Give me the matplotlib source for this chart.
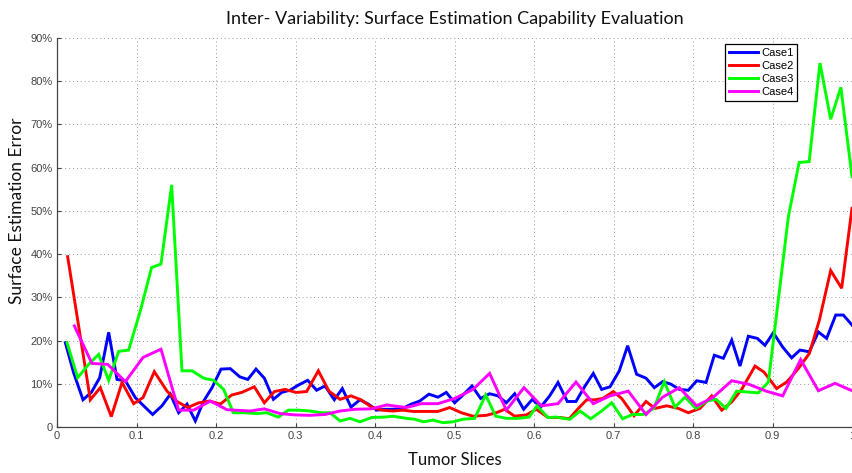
import matplotlib
matplotlib.use("Agg")
import matplotlib.pyplot as plt

# ---------------- data ----------------
case1_x = [0.0105, 0.021, 0.0327, 0.0432, 0.0537, 0.065, 0.0755, 0.086, 0.0985, 0.109,
           0.1203, 0.132, 0.1426, 0.153, 0.1635, 0.174, 0.1845, 0.195, 0.2063, 0.218,
           0.230, 0.240, 0.2503, 0.2608, 0.2722, 0.2826, 0.293, 0.3036, 0.3153, 0.3266,
           0.3371, 0.3488, 0.3589, 0.3698, 0.3811, 0.3916, 0.4021, 0.4126, 0.4226, 0.435,
           0.4457, 0.4562, 0.4679, 0.4792, 0.4897, 0.5002, 0.5107, 0.522, 0.5329, 0.5442,
           0.5547, 0.5652, 0.5757, 0.5870, 0.5979, 0.6084, 0.6197, 0.6302, 0.6419, 0.6528,
           0.6642, 0.6746, 0.6851, 0.6956, 0.7073, 0.7178, 0.7291, 0.7409, 0.7514, 0.7618,
           0.7723, 0.7828, 0.7941, 0.8046, 0.8164, 0.8268, 0.8382, 0.8487, 0.8591, 0.8696,
           0.8809, 0.8905, 0.9010, 0.9128, 0.9241, 0.9346, 0.9463, 0.9577, 0.9681, 0.9795,
           0.9891, 1.0]
case1_y = [19.5, 12.5, 6.3, 8.0, 11.4, 21.9, 11.0, 10.7, 6.8, 4.9,
           2.9, 4.9, 7.6, 3.3, 5.3, 1.4, 6.0, 9.1, 13.4, 13.5,
           11.6, 11.0, 13.4, 11.3, 6.4, 8.0, 8.5, 9.7, 10.8, 8.5,
           9.5, 6.3, 8.9, 4.6, 6.3, 5.3, 3.9, 4.1, 4.1, 4.3,
           5.3, 6.0, 7.6, 6.9, 8.0, 5.6, 7.4, 9.5, 6.6, 7.7,
           7.2, 5.6, 7.7, 4.1, 6.4, 4.6, 7.2, 10.3, 5.9, 5.9,
           9.5, 12.4, 8.7, 9.3, 13.0, 18.8, 12.2, 11.3, 9.1, 10.5,
           9.9, 8.7, 8.5, 10.7, 10.3, 16.6, 15.9, 20.1, 14.1, 21.0,
           20.5, 18.9, 21.8, 18.5, 16.0, 17.8, 17.4, 22.0, 20.5, 25.9,
           25.9, 23.6]

case2_x = [0.0134, 0.0419, 0.0545, 0.0683, 0.0818, 0.0964, 0.1082, 0.1224, 0.1384, 0.151,
           0.1644, 0.1782, 0.192, 0.2055, 0.2197, 0.2323, 0.2482, 0.2608, 0.2734, 0.2868,
           0.3006, 0.3140, 0.3287, 0.3421, 0.356, 0.3698, 0.3824, 0.3958, 0.4084, 0.4226,
           0.435, 0.448, 0.4792, 0.4939, 0.5086, 0.5233, 0.54, 0.5526, 0.5631, 0.5757,
           0.5904, 0.6030, 0.6176, 0.6327, 0.6444, 0.6558, 0.6663, 0.6768, 0.6864, 0.6998,
           0.7103, 0.7258, 0.7409, 0.7522, 0.7669, 0.7816, 0.7941, 0.8088, 0.8235, 0.8361,
           0.8487, 0.8612, 0.8780, 0.8893, 0.9052, 0.9178, 0.9325, 0.9463, 0.9589, 0.9732,
           0.9870, 1.0]
case2_y = [39.4, 6.3, 9.1, 2.4, 10.3, 5.4, 6.8, 12.8, 8.3, 5.9,
           4.5, 5.6, 6.0, 5.3, 7.4, 8.0, 9.3, 5.6, 8.2, 8.7,
           8.0, 8.2, 13.0, 8.3, 6.4, 7.2, 6.3, 4.6, 3.9, 3.7,
           3.9, 3.6, 3.6, 4.5, 3.3, 2.5, 2.7, 3.3, 4.1, 2.5,
           2.8, 4.1, 2.2, 2.2, 1.9, 4.3, 6.3, 6.3, 6.6, 8.2,
           6.6, 2.6, 5.9, 4.3, 4.9, 4.3, 3.3, 4.3, 7.2, 3.9,
           5.8, 8.7, 14.1, 12.7, 8.9, 10.4, 13.5, 17.0, 24.7, 36.2,
           32.1, 50.6]

case3_x = [0.0126, 0.026, 0.0398, 0.0524, 0.065, 0.0776, 0.0901, 0.105, 0.119, 0.1308,
           0.1442, 0.1572, 0.1698, 0.1845, 0.197, 0.2096, 0.2218, 0.2365, 0.2512, 0.2638,
           0.2784, 0.291, 0.3036, 0.3182, 0.3329, 0.3434, 0.356, 0.3686, 0.3811, 0.3958,
           0.4126, 0.4226, 0.4394, 0.45, 0.4612, 0.4729, 0.4855, 0.4981, 0.5107, 0.5254,
           0.5392, 0.5518, 0.5652, 0.5799, 0.5938, 0.6038, 0.6176, 0.6281, 0.6365, 0.6453,
           0.6579, 0.6713, 0.6851, 0.6977, 0.7115, 0.7241, 0.7375, 0.7507, 0.7639, 0.7773,
           0.7899, 0.8038, 0.8172, 0.829, 0.8415, 0.8549, 0.868, 0.8822, 0.8948, 0.92,
           0.9335, 0.9461, 0.9597, 0.9732, 0.986, 1.0]
case3_y = [19.5, 11.4, 14.5, 16.8, 10.8, 17.5, 17.8, 27.0, 36.9, 37.7,
           56.0, 13.0, 13.0, 11.3, 10.8, 8.7, 3.3, 3.3, 3.1, 3.3,
           2.3, 3.9, 3.9, 3.7, 3.3, 3.3, 1.4, 2.0, 1.2, 2.2,
           2.3, 2.5, 2.0, 1.8, 1.2, 1.6, 1.0, 1.2, 1.8, 2.0,
           7.4, 2.5, 2.0, 2.0, 2.3, 4.9, 2.2, 2.3, 2.0, 1.8,
           3.7, 1.9, 3.7, 5.6, 1.9, 2.9, 2.9, 4.3, 10.5, 4.6,
           6.9, 4.3, 6.0, 6.4, 4.3, 8.3, 8.1, 7.9, 10.4, 48.7,
           61.2, 61.4, 84.2, 71.2, 78.6, 57.9]

case4_x = [0.0218, 0.044, 0.0637, 0.086, 0.1082, 0.1308, 0.153, 0.1719, 0.1929, 0.2138,
           0.2428, 0.2608, 0.2805, 0.2994, 0.3182, 0.3371, 0.356, 0.3748, 0.3958, 0.4147,
           0.4394, 0.4583, 0.4792, 0.5002, 0.5233, 0.5442, 0.5652, 0.5874, 0.6093, 0.6302,
           0.6528, 0.6746, 0.6956, 0.7186, 0.7409, 0.7618, 0.7828, 0.8046, 0.8256, 0.8487,
           0.87, 0.892, 0.9128, 0.9354, 0.9577, 0.9787, 1.0]
case4_y = [23.4, 14.7, 14.5, 10.5, 16.1, 18.0, 3.9, 3.9, 6.0, 4.0,
           3.7, 4.2, 3.1, 2.8, 2.7, 2.9, 3.7, 4.1, 4.2, 5.1,
           4.5, 5.4, 5.4, 6.6, 8.7, 12.4, 3.9, 9.1, 4.9, 5.4,
           10.4, 5.4, 7.2, 8.3, 2.9, 6.9, 9.1, 4.9, 6.9, 10.7,
           9.9, 8.3, 7.2, 15.6, 8.4, 10.1, 8.4]

series_names = ["Case1", "Case2", "Case3", "Case4"]
series_colors = ["#0000ff", "#ff0000", "#00ff00", "#ff00ff"]

x_ticks = [0, 0.1, 0.2, 0.3, 0.4, 0.5, 0.6, 0.7, 0.8, 0.9, 1.0]
x_tick_labels = ["0", "0.1", "0.2", "0.3", "0.4", "0.5", "0.6", "0.7", "0.8", "0.9", "1"]
y_ticks = [0, 10, 20, 30, 40, 50, 60, 70, 80, 90]
y_tick_labels = ["0", "10%", "20%", "30%", "40%", "50%", "60%", "70%", "80%", "90%"]

title_text = "Inter- Variability: Surface Estimation Capability Evaluation"
x_label = "Tumor Slices"
y_label = "Surface Estimation Error"

# ---------------- figure ----------------
W, H, DPI = 853, 473, 100
fig = plt.figure(figsize=(W / DPI, H / DPI), dpi=DPI)
ax = fig.add_axes([57 / W, (H - 427) / H, 795 / W, 389 / H])

xs = [case1_x, case2_x, case3_x, case4_x]
ys = [case1_y, case2_y, case3_y, case4_y]
for xv, yv, name, col in zip(xs, ys, series_names, series_colors):
    ax.plot(xv, yv, color=col, lw=2.1, label=name, solid_joinstyle="miter")

ax.set_xlim(0, 1)
ax.set_ylim(0, 90)
ax.set_xticks(x_ticks)
ax.set_xticklabels(x_tick_labels)
ax.set_yticks(y_ticks)
ax.set_yticklabels(y_tick_labels)

tick_font = "Liberation Sans"
for lab in ax.get_xticklabels() + ax.get_yticklabels():
    lab.set_family(tick_font)
    lab.set_fontsize(8)
    lab.set_color("#222222")

ax.tick_params(direction="in", length=3, width=0.8, colors="#444444", pad=3)
ax.grid(True, linestyle=(0, (1, 3)), color="#9a9a9a", linewidth=0.7)
for s in ["top", "right"]:
    ax.spines[s].set_visible(False)
for s in ["left", "bottom"]:
    ax.spines[s].set_color("#444444")
    ax.spines[s].set_linewidth(0.9)

label_font = "Lato"
ax.set_title(title_text, family=label_font, fontsize=13, pad=10, color="#111111")
ax.set_xlabel(x_label, family=label_font, fontsize=12, labelpad=8, color="#111111")
ax.set_ylabel(y_label, family=label_font, fontsize=12.5, labelpad=3, color="#111111")
ax.yaxis.set_label_coords(-0.04, 0.555)

leg = ax.legend(loc="upper right", bbox_to_anchor=(0.931, 0.985), prop={"family": tick_font, "size": 8},
                frameon=True, fancybox=False, edgecolor="black", framealpha=1,
                handlelength=2.6, handletextpad=0.3, borderpad=0.35, labelspacing=0.28,
                borderaxespad=0)
leg.get_frame().set_linewidth(0.9)

fig.savefig("out.png", dpi=DPI)
